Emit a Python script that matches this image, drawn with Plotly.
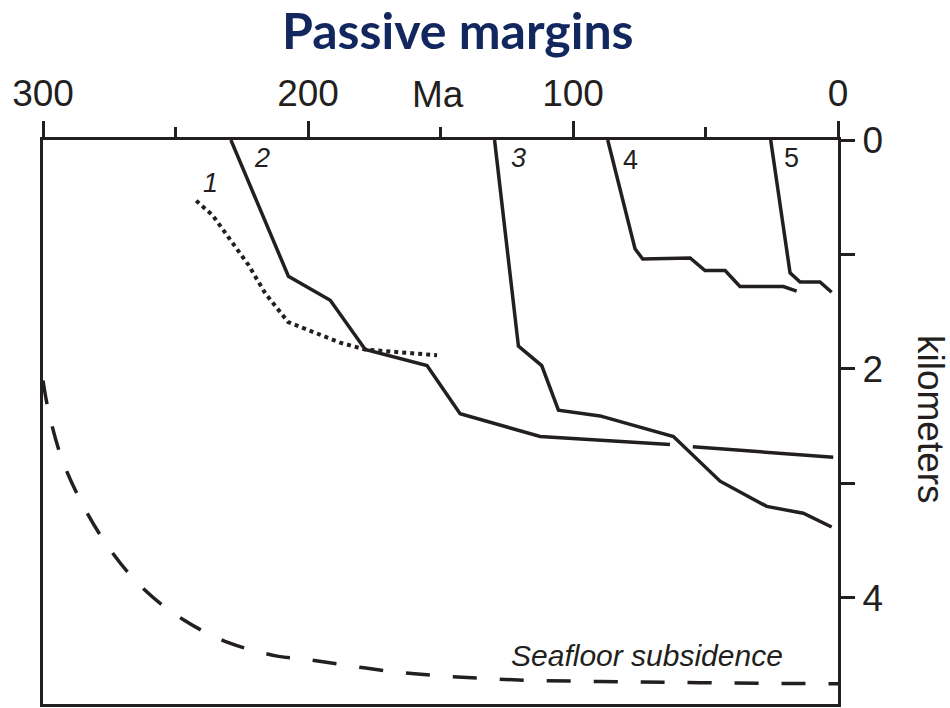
import plotly.graph_objects as go

# ---- data (age in Ma, depth in km) ----
c1_age = [242.2, 236.1, 222.5, 216.1, 207.5, 187.9, 178.4, 151.3]
c1_km = [0.53, 0.655, 1.09, 1.34, 1.59, 1.77, 1.83, 1.88]

c2_age = [229.1, 207.4, 191.6, 178.4, 155.1, 142.6, 112.4, 63.4, None, 54.8, 1.8]
c2_km = [0.0, 1.19, 1.40, 1.83, 1.97, 2.39, 2.59, 2.66, None, 2.68, 2.77]

c3_age = [129.6, 120.6, 111.8, 105.5, 89.8, 62.1, 44.5, 26.9, 13.1, 2.4]
c3_km = [0.0, 1.80, 1.97, 2.36, 2.41, 2.59, 2.98, 3.20, 3.26, 3.38]

c4_age = [86.9, 76.6, 73.7, 55.8, 50.2, 42.6, 37.0, 20.6, 15.6]
c4_km = [0.0, 0.95, 1.04, 1.03, 1.14, 1.14, 1.28, 1.28, 1.32]

c5_age = [25.4, 18.1, 14.3, 6.8, 2.4]
c5_km = [0.0, 1.16, 1.24, 1.24, 1.33]

sea_age = [300, 297.9, 292.8, 284.7, 274.6, 262.1, 247.0, 230.0, 211.1, 202.9,
           165.2, 127.5, 89.8, 52.0, 0]
sea_km = [2.10, 2.37, 2.79, 3.20, 3.58, 3.92, 4.19, 4.39, 4.51, 4.53,
          4.65, 4.71, 4.73, 4.74, 4.75]

curve_labels = ["1", "2", "3", "4", "5"]
label_age = [236.9, 217.3, 120.4, 78.3, 17.4]
label_km = [0.376, 0.157, 0.157, 0.175, 0.157]
label_italic = [True, True, True, False, False]

x_tickvals = [300, 200, 100, 0]
x_ticktext = ["300", "200", "100", "0"]
y_tickvals = [0, 1, 2, 3, 4]
y_ticktext = ["0", "", "2", "", "4"]

INK = "#231f20"
W, H = 950, 708
L, R, T, B = 43, 112, 140, 4
pw, ph = W - L - R, H - T - B


def px_to_paper(px, py):
    return (px - L) / pw, (H - B - py) / ph


fig = go.Figure()

solid = dict(color=INK, width=3.5)
fig.add_trace(go.Scatter(x=c1_age, y=c1_km, mode="lines",
                         line=dict(color=INK, width=4, dash="4px,4px")))
for xs, ys in [(c2_age, c2_km), (c3_age, c3_km), (c4_age, c4_km), (c5_age, c5_km)]:
    fig.add_trace(go.Scatter(x=xs, y=ys, mode="lines", line=solid, connectgaps=False))
fig.add_trace(go.Scatter(x=sea_age, y=sea_km, mode="lines", line_shape="spline",
                         line=dict(color=INK, width=3.5, dash="24px,23px")))

annotations = []
for t, a, k, it in zip(curve_labels, label_age, label_km, label_italic):
    txt = f"<i>{t}</i>" if it else t
    annotations.append(dict(x=a, y=k, xref="x", yref="y", text=txt, showarrow=False,
                            xanchor="center", yanchor="middle",
                            font=dict(family="Liberation Sans", size=27, color=INK)))
annotations.append(dict(x=72.0, y=4.50, xref="x", yref="y", text="<i>Seafloor subsidence</i>",
                        showarrow=False, xanchor="center", yanchor="middle",
                        font=dict(family="Liberation Sans", size=30, color=INK)))

for text, (px, py), font, angle in [
    ("Ma", (438, 94), dict(family="Liberation Sans", size=37, color=INK), 0),
    ("kilometers", (931, 419), dict(family="Liberation Sans", size=37, color=INK), 90),
    ("<b>Passive margins</b>", (458, 30), dict(family="Lato", size=50, color="#13275f"), 0),
]:
    xp, yp = px_to_paper(px, py)
    annotations.append(dict(x=xp, y=yp, xref="paper", yref="paper", text=text,
                            showarrow=False, xanchor="center", yanchor="middle",
                            textangle=angle, font=font))

fig.update_layout(
    width=W, height=H,
    margin=dict(l=L, r=R, t=T, b=B, autoexpand=False),
    plot_bgcolor="white", paper_bgcolor="white",
    showlegend=False,
    annotations=annotations,
    xaxis=dict(range=[300, 0], side="top", showgrid=False, zeroline=False, automargin=False,
               showline=True, linecolor=INK, linewidth=3, mirror=True,
               ticks="outside", ticklen=16, tickwidth=3, tickcolor=INK,
               tickvals=x_tickvals, ticktext=x_ticktext,
               tickfont=dict(family="Liberation Sans", size=37, color=INK),
               minor=dict(dtick=50, tick0=0, ticks="outside", ticklen=10,
                          tickwidth=3, tickcolor=INK, showgrid=False)),
    yaxis=dict(range=[4.926, 0], side="right", showgrid=False, zeroline=False, automargin=False,
               showline=True, linecolor=INK, linewidth=3, mirror=True,
               ticks="outside", ticklen=14, tickwidth=3, tickcolor=INK,
               tickvals=y_tickvals, ticktext=y_ticktext,
               tickfont=dict(family="Liberation Sans", size=37, color=INK)),
)

fig.write_html("out.html", config={"displayModeBar": False},
               post_script="document.body.style.margin='0';document.body.style.overflow='hidden';")
